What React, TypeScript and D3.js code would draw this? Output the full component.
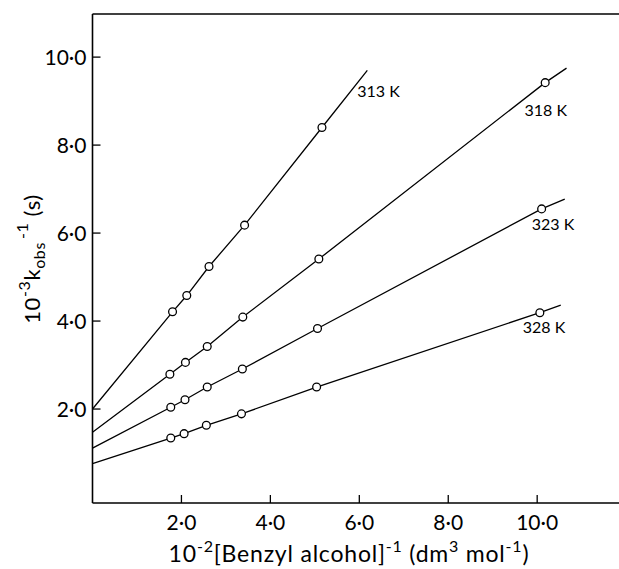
import React from "react";
import * as d3 from "d3";

// ---- data ----
const seriesNames = ["313 K", "318 K", "323 K", "328 K"];
const xs313 = [1.8, 2.12, 2.62, 3.42, 5.16];
const ys313 = [4.21, 4.58, 5.24, 6.18, 8.4];
const xs318 = [1.74, 2.09, 2.58, 3.38, 5.09, 10.18];
const ys318 = [2.79, 3.06, 3.42, 4.09, 5.41, 9.42];
const xs323 = [1.76, 2.08, 2.58, 3.37, 5.06, 10.1];
const ys323 = [2.04, 2.21, 2.5, 2.91, 3.83, 6.55];
const xs328 = [1.76, 2.06, 2.56, 3.35, 5.04, 10.06];
const ys328 = [1.34, 1.44, 1.63, 1.89, 2.5, 4.19];
// fitted line: intercept at x = 0 and drawn end point
const intercepts = [2.0, 1.47, 1.11, 0.76];
const lineEndX = [6.18, 10.66, 10.62, 10.53];
const lineEndY = [9.7, 9.75, 6.77, 4.36];
const xTicks = [2, 4, 6, 8, 10];
const yTicks = [2, 4, 6, 8, 10];
const xTickLabels = ["2·0", "4·0", "6·0", "8·0", "10·0"];
const yTickLabels = ["2·0", "4·0", "6·0", "8·0", "10·0"];

const allX = [xs313, xs318, xs323, xs328];
const allY = [ys313, ys318, ys323, ys328];

// label offsets in pixels relative to the line end
const labelOffsets: [number, number][] = [
  [-10, 21],
  [-42, 42],
  [-33, 25],
  [-38, 22],
];

const W = 619;
const H = 569;
const FONT = "Lato, 'Open Sans', 'DejaVu Sans', sans-serif";

export default function App() {
  const x = d3.scaleLinear().domain([0, 11.84]).range([92.5, 619]);
  const y = d3.scaleLinear().domain([-0.136, 10.98]).range([503, 14]);
  const axisX = x(0);
  const axisY = y(-0.136);

  const line = d3
    .line<[number, number]>()
    .x((d) => x(d[0]))
    .y((d) => y(d[1]));

  return (
    <div style={{ position: "absolute", left: 0, top: 0 }}>
      <svg width={W} height={H} style={{ display: "block", background: "#fff" }}>
        <rect width={W} height={H} fill="#fff" />
        {/* frame */}
        <line x1={axisX} y1={14} x2={W} y2={14} stroke="#000" strokeWidth={1.4} />
        <line x1={axisX} y1={14} x2={axisX} y2={axisY} stroke="#000" strokeWidth={1.6} />
        <line x1={axisX} y1={axisY} x2={W} y2={axisY} stroke="#000" strokeWidth={1.6} />

        {/* x ticks */}
        {xTicks.map((t, i) => (
          <g key={"xt" + i}>
            <line x1={x(t)} x2={x(t)} y1={axisY} y2={axisY - 8} stroke="#000" strokeWidth={1.3} />
            <text
              x={x(t)}
              y={530}
              textAnchor="middle"
              fontFamily={FONT}
              fontWeight={400}
              fontSize={21}
              fill="#000"
            >
              {xTickLabels[i]}
            </text>
          </g>
        ))}

        {/* y ticks */}
        {yTicks.map((t, i) => (
          <g key={"yt" + i}>
            <line x1={axisX} x2={axisX + 8} y1={y(t)} y2={y(t)} stroke="#000" strokeWidth={1.3} />
            <text
              x={axisX - 6}
              y={y(t) + 8}
              textAnchor="end"
              fontFamily={FONT}
              fontWeight={400}
              fontSize={21}
              fill="#000"
            >
              {yTickLabels[i]}
            </text>
          </g>
        ))}

        {/* lines */}
        {seriesNames.map((name, s) => {
          const pts: [number, number][] = [[0, intercepts[s]]];
          allX[s].forEach((v, j) => pts.push([v, allY[s][j]]));
          pts.push([lineEndX[s], lineEndY[s]]);
          return (
            <path key={"l" + s} d={line(pts) || ""} fill="none" stroke="#000" strokeWidth={1.3} />
          );
        })}

        {/* points */}
        {seriesNames.map((name, s) =>
          allX[s].map((v, j) => (
            <circle
              key={"p" + s + "-" + j}
              cx={x(v)}
              cy={y(allY[s][j])}
              r={3.9}
              fill="#fff"
              stroke="#000"
              strokeWidth={1.3}
            />
          ))
        )}

        {/* series labels */}
        {seriesNames.map((name, s) => (
          <text
            key={"lab" + s}
            x={x(lineEndX[s]) + labelOffsets[s][0]}
            y={y(lineEndY[s]) + labelOffsets[s][1] + 6}
            fontFamily={FONT}
            fontWeight={400}
            fontSize={16}
            fill="#000"
          >
            {name}
          </text>
        ))}

        {/* y axis title */}
        <text
          transform="translate(40,259) rotate(-90)"
          textAnchor="middle"
          fontFamily={FONT}
          fontWeight={400}
          fontSize={22}
          letterSpacing={0.6}
          fill="#000"
        >
          <tspan>10</tspan>
          <tspan dy={-10} fontSize={16}>-3</tspan>
          <tspan dy={10}>k</tspan>
          <tspan dy={5} fontSize={16}>obs</tspan>
          <tspan dy={-17} dx={3} fontSize={16}>-1</tspan>
          <tspan dy={12}>{"  (s)"}</tspan>
        </text>

        {/* x axis title */}
        <text
          x={349}
          y={562}
          textAnchor="middle"
          fontFamily={FONT}
          fontWeight={400}
          fontSize={23}
          letterSpacing={0.8}
          fill="#000"
        >
          <tspan>10</tspan>
          <tspan dy={-10} fontSize={16}>-2</tspan>
          <tspan dy={10}>[Benzyl alcohol]</tspan>
          <tspan dy={-10} fontSize={16}>-1</tspan>
          <tspan dy={10}>{" (dm"}</tspan>
          <tspan dy={-10} fontSize={16}>3</tspan>
          <tspan dy={10}>{" mol"}</tspan>
          <tspan dy={-10} fontSize={16}>-1</tspan>
          <tspan dy={10}>)</tspan>
        </text>
      </svg>
    </div>
  );
}
